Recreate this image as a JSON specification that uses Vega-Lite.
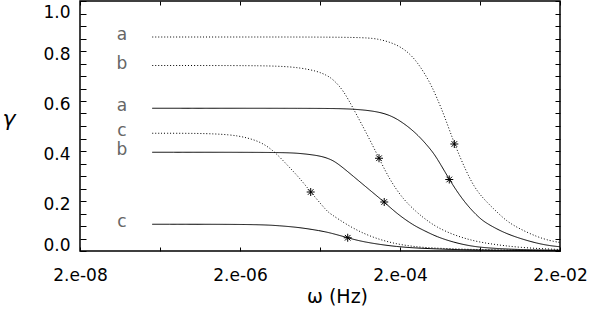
{
  "$schema": "https://vega.github.io/schema/vega-lite/v6.json",
  "width": 480,
  "height": 250,
  "autosize": {"type": "none"},
  "padding": {"left": 80, "top": 1, "right": 49, "bottom": 61},
  "background": "white",
  "config": {
    "view": {"stroke": "black", "strokeWidth": 1.5},
    "axis": {
      "labelColor": "black",
      "labelFont": "DejaVu Sans",
      "labelFontSize": 17,
      "titleFont": "DejaVu Sans",
      "titleFontWeight": "normal",
      "titleColor": "black"
    }
  },
  "datasets": {
    "curves": [
      {"case": "a", "line": "dotted", "w": 1.6e-7, "g": 0.856},
      {"case": "a", "line": "dotted", "w": 2e-6, "g": 0.856},
      {"case": "a", "line": "dotted", "w": 2e-5, "g": 0.856},
      {"case": "a", "line": "dotted", "w": 7.67e-5, "g": 0.854},
      {"case": "a", "line": "dotted", "w": 1.125e-4, "g": 0.847},
      {"case": "a", "line": "dotted", "w": 1.82e-4, "g": 0.827},
      {"case": "a", "line": "dotted", "w": 2.67e-4, "g": 0.79},
      {"case": "a", "line": "dotted", "w": 3.56e-4, "g": 0.74},
      {"case": "a", "line": "dotted", "w": 4.74e-4, "g": 0.674},
      {"case": "a", "line": "dotted", "w": 5.75e-4, "g": 0.615},
      {"case": "a", "line": "dotted", "w": 7.3e-4, "g": 0.535},
      {"case": "a", "line": "dotted", "w": 9.55e-4, "g": 0.428},
      {"case": "a", "line": "dotted", "w": 1.5e-3, "g": 0.283},
      {"case": "a", "line": "dotted", "w": 2e-3, "g": 0.223},
      {"case": "a", "line": "dotted", "w": 2.93e-3, "g": 0.17},
      {"case": "a", "line": "dotted", "w": 4.32e-3, "g": 0.118},
      {"case": "a", "line": "dotted", "w": 6.32e-3, "g": 0.088},
      {"case": "a", "line": "dotted", "w": 1.023e-2, "g": 0.057},
      {"case": "a", "line": "dotted", "w": 1.5e-2, "g": 0.041},
      {"case": "a", "line": "dotted", "w": 2e-2, "g": 0.034},

      {"case": "a", "line": "solid", "w": 1.6e-7, "g": 0.571},
      {"case": "a", "line": "solid", "w": 2e-5, "g": 0.571},
      {"case": "a", "line": "solid", "w": 5.21e-5, "g": 0.569},
      {"case": "a", "line": "solid", "w": 1.236e-4, "g": 0.556},
      {"case": "a", "line": "solid", "w": 2e-4, "g": 0.523},
      {"case": "a", "line": "solid", "w": 3.24e-4, "g": 0.47},
      {"case": "a", "line": "solid", "w": 4.74e-4, "g": 0.41},
      {"case": "a", "line": "solid", "w": 5.75e-4, "g": 0.374},
      {"case": "a", "line": "solid", "w": 8.26e-4, "g": 0.286},
      {"case": "a", "line": "solid", "w": 1.125e-3, "g": 0.22},
      {"case": "a", "line": "solid", "w": 1.5e-3, "g": 0.17},
      {"case": "a", "line": "solid", "w": 2e-3, "g": 0.13},
      {"case": "a", "line": "solid", "w": 2.43e-3, "g": 0.11},
      {"case": "a", "line": "solid", "w": 3.91e-3, "g": 0.074},
      {"case": "a", "line": "solid", "w": 6.32e-3, "g": 0.05},
      {"case": "a", "line": "solid", "w": 1.023e-2, "g": 0.031},
      {"case": "a", "line": "solid", "w": 1.5e-2, "g": 0.021},
      {"case": "a", "line": "solid", "w": 2e-2, "g": 0.017},

      {"case": "b", "line": "dotted", "w": 1.6e-7, "g": 0.742},
      {"case": "b", "line": "dotted", "w": 2e-6, "g": 0.742},
      {"case": "b", "line": "dotted", "w": 6.32e-6, "g": 0.74},
      {"case": "b", "line": "dotted", "w": 1.125e-5, "g": 0.733},
      {"case": "b", "line": "dotted", "w": 1.82e-5, "g": 0.72},
      {"case": "b", "line": "dotted", "w": 2.43e-5, "g": 0.703},
      {"case": "b", "line": "dotted", "w": 2.93e-5, "g": 0.686},
      {"case": "b", "line": "dotted", "w": 3.91e-5, "g": 0.643},
      {"case": "b", "line": "dotted", "w": 5.21e-5, "g": 0.57},
      {"case": "b", "line": "dotted", "w": 7.67e-5, "g": 0.47},
      {"case": "b", "line": "dotted", "w": 1.093e-4, "g": 0.371},
      {"case": "b", "line": "dotted", "w": 1.5e-4, "g": 0.283},
      {"case": "b", "line": "dotted", "w": 2.2e-4, "g": 0.206},
      {"case": "b", "line": "dotted", "w": 3.24e-4, "g": 0.155},
      {"case": "b", "line": "dotted", "w": 4.11e-4, "g": 0.128},
      {"case": "b", "line": "dotted", "w": 5.75e-4, "g": 0.095},
      {"case": "b", "line": "dotted", "w": 9.27e-4, "g": 0.065},
      {"case": "b", "line": "dotted", "w": 1.5e-3, "g": 0.044},
      {"case": "b", "line": "dotted", "w": 2.43e-3, "g": 0.03},
      {"case": "b", "line": "dotted", "w": 6.32e-3, "g": 0.013},
      {"case": "b", "line": "dotted", "w": 2e-2, "g": 0.006},

      {"case": "b", "line": "solid", "w": 1.6e-7, "g": 0.395},
      {"case": "b", "line": "solid", "w": 6.32e-6, "g": 0.395},
      {"case": "b", "line": "solid", "w": 1.125e-5, "g": 0.391},
      {"case": "b", "line": "solid", "w": 2e-5, "g": 0.381},
      {"case": "b", "line": "solid", "w": 2.6e-5, "g": 0.369},
      {"case": "b", "line": "solid", "w": 3.24e-5, "g": 0.354},
      {"case": "b", "line": "solid", "w": 5.21e-5, "g": 0.299},
      {"case": "b", "line": "solid", "w": 8.43e-5, "g": 0.243},
      {"case": "b", "line": "solid", "w": 1.27e-4, "g": 0.196},
      {"case": "b", "line": "solid", "w": 1.82e-4, "g": 0.15},
      {"case": "b", "line": "solid", "w": 2.93e-4, "g": 0.103},
      {"case": "b", "line": "solid", "w": 4.11e-4, "g": 0.08},
      {"case": "b", "line": "solid", "w": 5.75e-4, "g": 0.057},
      {"case": "b", "line": "solid", "w": 9.27e-4, "g": 0.035},
      {"case": "b", "line": "solid", "w": 1.5e-3, "g": 0.02},
      {"case": "b", "line": "solid", "w": 2.43e-3, "g": 0.012},
      {"case": "b", "line": "solid", "w": 6.32e-3, "g": 0.005},
      {"case": "b", "line": "solid", "w": 2e-2, "g": 0.003},

      {"case": "c", "line": "dotted", "w": 1.6e-7, "g": 0.471},
      {"case": "c", "line": "dotted", "w": 6.32e-7, "g": 0.471},
      {"case": "c", "line": "dotted", "w": 1.5e-6, "g": 0.466},
      {"case": "c", "line": "dotted", "w": 2.43e-6, "g": 0.454},
      {"case": "c", "line": "dotted", "w": 3.77e-6, "g": 0.434},
      {"case": "c", "line": "dotted", "w": 5.48e-6, "g": 0.396},
      {"case": "c", "line": "dotted", "w": 8e-6, "g": 0.34},
      {"case": "c", "line": "dotted", "w": 1.125e-5, "g": 0.29},
      {"case": "c", "line": "dotted", "w": 1.53e-5, "g": 0.236},
      {"case": "c", "line": "dotted", "w": 2.43e-5, "g": 0.16},
      {"case": "c", "line": "dotted", "w": 2.67e-5, "g": 0.15},
      {"case": "c", "line": "dotted", "w": 4.32e-5, "g": 0.105},
      {"case": "c", "line": "dotted", "w": 6.95e-5, "g": 0.07},
      {"case": "c", "line": "dotted", "w": 1.125e-4, "g": 0.045},
      {"case": "c", "line": "dotted", "w": 1.82e-4, "g": 0.028},
      {"case": "c", "line": "dotted", "w": 2.93e-4, "g": 0.018},
      {"case": "c", "line": "dotted", "w": 4.74e-4, "g": 0.012},
      {"case": "c", "line": "dotted", "w": 1.5e-3, "g": 0.006},
      {"case": "c", "line": "dotted", "w": 6.32e-3, "g": 0.003},
      {"case": "c", "line": "dotted", "w": 2e-2, "g": 0.002},

      {"case": "c", "line": "solid", "w": 1.6e-7, "g": 0.107},
      {"case": "c", "line": "solid", "w": 3.24e-6, "g": 0.107},
      {"case": "c", "line": "solid", "w": 6.32e-6, "g": 0.101},
      {"case": "c", "line": "solid", "w": 1.125e-5, "g": 0.094},
      {"case": "c", "line": "solid", "w": 2e-5, "g": 0.081},
      {"case": "c", "line": "solid", "w": 2.67e-5, "g": 0.073},
      {"case": "c", "line": "solid", "w": 4.44e-5, "g": 0.053},
      {"case": "c", "line": "solid", "w": 6.95e-5, "g": 0.036},
      {"case": "c", "line": "solid", "w": 1.82e-4, "g": 0.016},
      {"case": "c", "line": "solid", "w": 4.74e-4, "g": 0.009},
      {"case": "c", "line": "solid", "w": 1.5e-3, "g": 0.004},
      {"case": "c", "line": "solid", "w": 6.32e-3, "g": 0.002},
      {"case": "c", "line": "solid", "w": 2e-2, "g": 0.001}
    ],
    "stars": [
      {"case": "a", "line": "dotted", "w": 9.55e-4, "g": 0.428},
      {"case": "a", "line": "solid", "w": 8.26e-4, "g": 0.286},
      {"case": "b", "line": "dotted", "w": 1.093e-4, "g": 0.371},
      {"case": "b", "line": "solid", "w": 1.27e-4, "g": 0.196},
      {"case": "c", "line": "dotted", "w": 1.53e-5, "g": 0.236},
      {"case": "c", "line": "solid", "w": 4.44e-5, "g": 0.053}
    ],
    "labels": [
      {"case": "a", "line": "dotted", "w": 6.7e-8, "g": 0.856},
      {"case": "b", "line": "dotted", "w": 6.7e-8, "g": 0.742},
      {"case": "a", "line": "solid", "w": 6.7e-8, "g": 0.571},
      {"case": "c", "line": "dotted", "w": 6.7e-8, "g": 0.471},
      {"case": "b", "line": "solid", "w": 6.7e-8, "g": 0.395},
      {"case": "c", "line": "solid", "w": 6.7e-8, "g": 0.107}
    ]
  },
  "layer": [
    {
      "data": {"name": "curves"},
      "mark": {"type": "line", "interpolate": "basis", "strokeWidth": 1, "color": "black"},
      "encoding": {
        "x": {
          "field": "w", "type": "quantitative",
          "scale": {"type": "log", "domain": [2e-8, 2e-2], "nice": false},
          "axis": {
            "domain": true,
            "domainOpacity": 0,
            "grid": false,
            "offset": -4,
            "zindex": 1,
            "values": [2e-8, 2e-7, 2e-6, 2e-5, 2e-4, 2e-3, 2e-2],
            "labelExpr": "datum.value < 1e-7 ? '2.e-08' : (datum.value > 1e-6 && datum.value < 1e-5) ? '2.e-06' : (datum.value > 1e-4 && datum.value < 1e-3) ? '2.e-04' : datum.value > 1e-2 ? '2.e-02' : ''",
            "ticks": true,
            "tickColor": "black",
            "tickOpacity": 1,
            "tickSize": 4,
            "labelPadding": 16,
            "labelFlush": false,
            "labelOverlap": false,
            "title": "ω (Hz)",
            "titleFontSize": 19,
            "titleX": 257,
            "titleY": 55,
            "titleAlign": "center",
            "titleBaseline": "alphabetic"
          }
        },
        "y": {
          "field": "g", "type": "quantitative",
          "scale": {"domain": [0, 1], "nice": false},
          "axis": {
            "domain": true,
            "domainOpacity": 0,
            "grid": false,
            "offset": -6,
            "zindex": 1,
            "values": [0, 0.05, 0.1, 0.15, 0.2, 0.25, 0.3, 0.35, 0.4, 0.45, 0.5, 0.55, 0.6, 0.65, 0.7, 0.75, 0.8, 0.85, 0.9, 0.95, 1.0],
            "labelExpr": "abs(datum.value * 5 - round(datum.value * 5)) < 0.01 ? format(datum.value, '.1f') : ''",
            "ticks": true,
            "tickColor": "black",
            "tickOpacity": 1,
            "tickSize": 6,
            "labelPadding": 10,
            "labelFlush": true,
            "labelOffset": 3,
            "labelOverlap": false,
            "title": "γ",
            "titleFontSize": 22,
            "titleFontStyle": "italic",
            "titleAngle": 0,
            "titleX": -84,
            "titleY": 124,
            "titleAlign": "left",
            "titleBaseline": "alphabetic"
          }
        },
        "detail": {"field": "case", "type": "nominal"},
        "strokeDash": {
          "field": "line", "type": "nominal",
          "scale": {"domain": ["dotted", "solid"], "range": [[1, 2], [1, 0]]},
          "legend": null
        }
      }
    },
    {
      "data": {"name": "stars"},
      "mark": {
        "type": "point",
        "shape": "M-1,0L1,0M0,-1L0,1M-0.7,-0.7L0.7,0.7M-0.7,0.7L0.7,-0.7",
        "size": 64,
        "filled": false,
        "stroke": "black",
        "strokeWidth": 1,
        "opacity": 1
      },
      "encoding": {
        "x": {
          "field": "w", "type": "quantitative",
          "scale": {"type": "log", "domain": [2e-8, 2e-2], "nice": false},
          "axis": {
            "orient": "top",
            "domain": true,
            "domainOpacity": 0,
            "grid": false,
            "offset": -4,
            "zindex": 1,
            "values": [2e-8, 2e-7, 2e-6, 2e-5, 2e-4, 2e-3, 2e-2],
            "labels": false,
            "ticks": true,
            "tickColor": "black",
            "tickOpacity": 1,
            "tickSize": 4,
            "title": null
          }
        },
        "y": {
          "field": "g", "type": "quantitative",
          "scale": {"domain": [0, 1], "nice": false},
          "axis": {
            "orient": "right",
            "domain": true,
            "domainOpacity": 0,
            "grid": false,
            "offset": -5,
            "zindex": 1,
            "values": [0, 0.05, 0.1, 0.15, 0.2, 0.25, 0.3, 0.35, 0.4, 0.45, 0.5, 0.55, 0.6, 0.65, 0.7, 0.75, 0.8, 0.85, 0.9, 0.95, 1.0],
            "labels": false,
            "ticks": true,
            "tickColor": "black",
            "tickOpacity": 1,
            "tickSize": 5,
            "title": null
          }
        }
      }
    },
    {
      "data": {"name": "labels"},
      "mark": {"type": "text", "font": "DejaVu Sans", "fontSize": 17, "color": "#666666", "baseline": "alphabetic", "align": "center", "dy": 3},
      "encoding": {
        "x": {"field": "w", "type": "quantitative", "scale": {"type": "log", "domain": [2e-8, 2e-2], "nice": false}, "axis": null},
        "y": {"field": "g", "type": "quantitative", "scale": {"domain": [0, 1], "nice": false}, "axis": null},
        "text": {"field": "case", "type": "nominal"}
      }
    }
  ],
  "resolve": {"axis": {"x": "independent", "y": "independent"}}
}
